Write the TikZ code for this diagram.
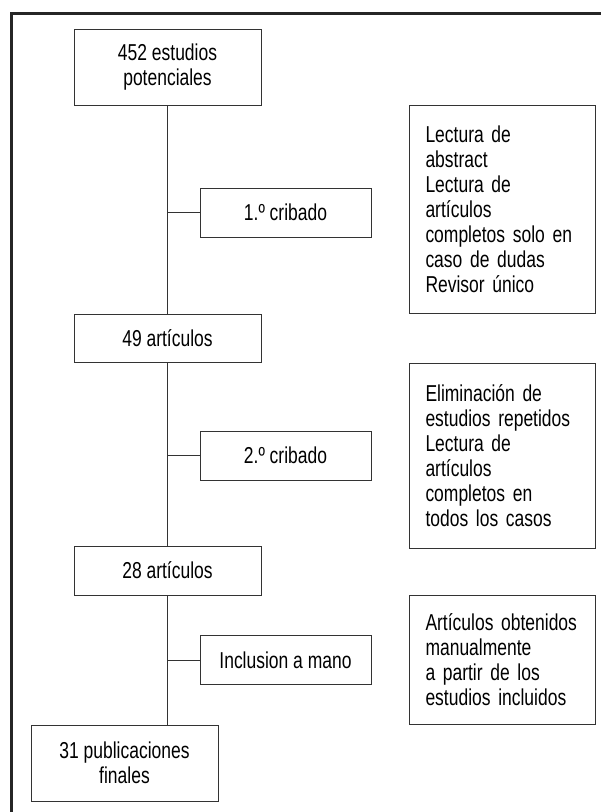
\documentclass[tikz,border=0pt]{standalone}
\usepackage{fontspec}
\setmainfont[FakeStretch=0.76]{Liberation Sans}

\begin{document}
\begin{tikzpicture}[x=1pt, y=-1pt, line width=1pt, draw=black!80,
  stage/.style={draw=black!80, align=center, inner sep=0pt, font=\fontsize{23}{25}\selectfont},
  screen/.style={draw=black!80, inner sep=0pt, minimum width=171pt, minimum height=49pt, font=\fontsize{23}{25}\selectfont},
  note/.style={draw=black!80, align=left, anchor=north west, inner xsep=16pt, inner ysep=0pt,
    text width=154pt, minimum width=186pt, font=\fontsize{23}{25}\selectfont}]
\useasboundingbox (0,0) rectangle (601,812);
%\draw[red] (0,0) rectangle (601,812);

% frame, only top and left edge visible
\draw[line width=3pt, black!85] (11,812) -- (11,13) -- (601,13);

\node[stage, minimum width=187pt, minimum height=76pt] (b452) at (167.5,67) {452 estudios\\potenciales};
\node[stage, minimum width=187pt, minimum height=48pt] (b49) at (167.5,338) {49 art\'iculos};
\node[stage, minimum width=187pt, minimum height=49pt] (b28) at (167.5,570.5) {28 art\'iculos};
\node[stage, minimum width=187pt, minimum height=76pt] (b31) at (124.5,763) {31 publicaciones\\finales};

\node[screen] (c1) at (285.5,212.5) {1.º cribado};
\node[screen] (c2) at (285.5,455.5) {2.º cribado};
\node[screen] (c3) at (285.5,660) {Inclusion a mano};

\node[note, minimum height=208pt] (n1) at (409,105) {Lectura de\\abstract\\Lectura de\\art\'iculos\\completos solo en\\caso de dudas\\Revisor \'unico};
\node[note, minimum height=185pt] (n2) at (409,363) {Eliminaci\'on de\\estudios repetidos\\Lectura de\\art\'iculos\\completos en\\todos los casos};
\node[note, minimum height=129pt] (n3) at (409,595) {Art\'iculos obtenidos\\manualmente\\a partir de los\\estudios incluidos};

\draw (b452) -- (b49);
\draw (b49) -- (b28);
\draw (b28.south) -- (b28.south |- b31.north);
\draw (c1.west) -- (c1.west -| b452.south);
\draw (c2.west) -- (c2.west -| b49.south);
\draw (c3.west) -- (c3.west -| b28.south);

\end{tikzpicture}
\end{document}
